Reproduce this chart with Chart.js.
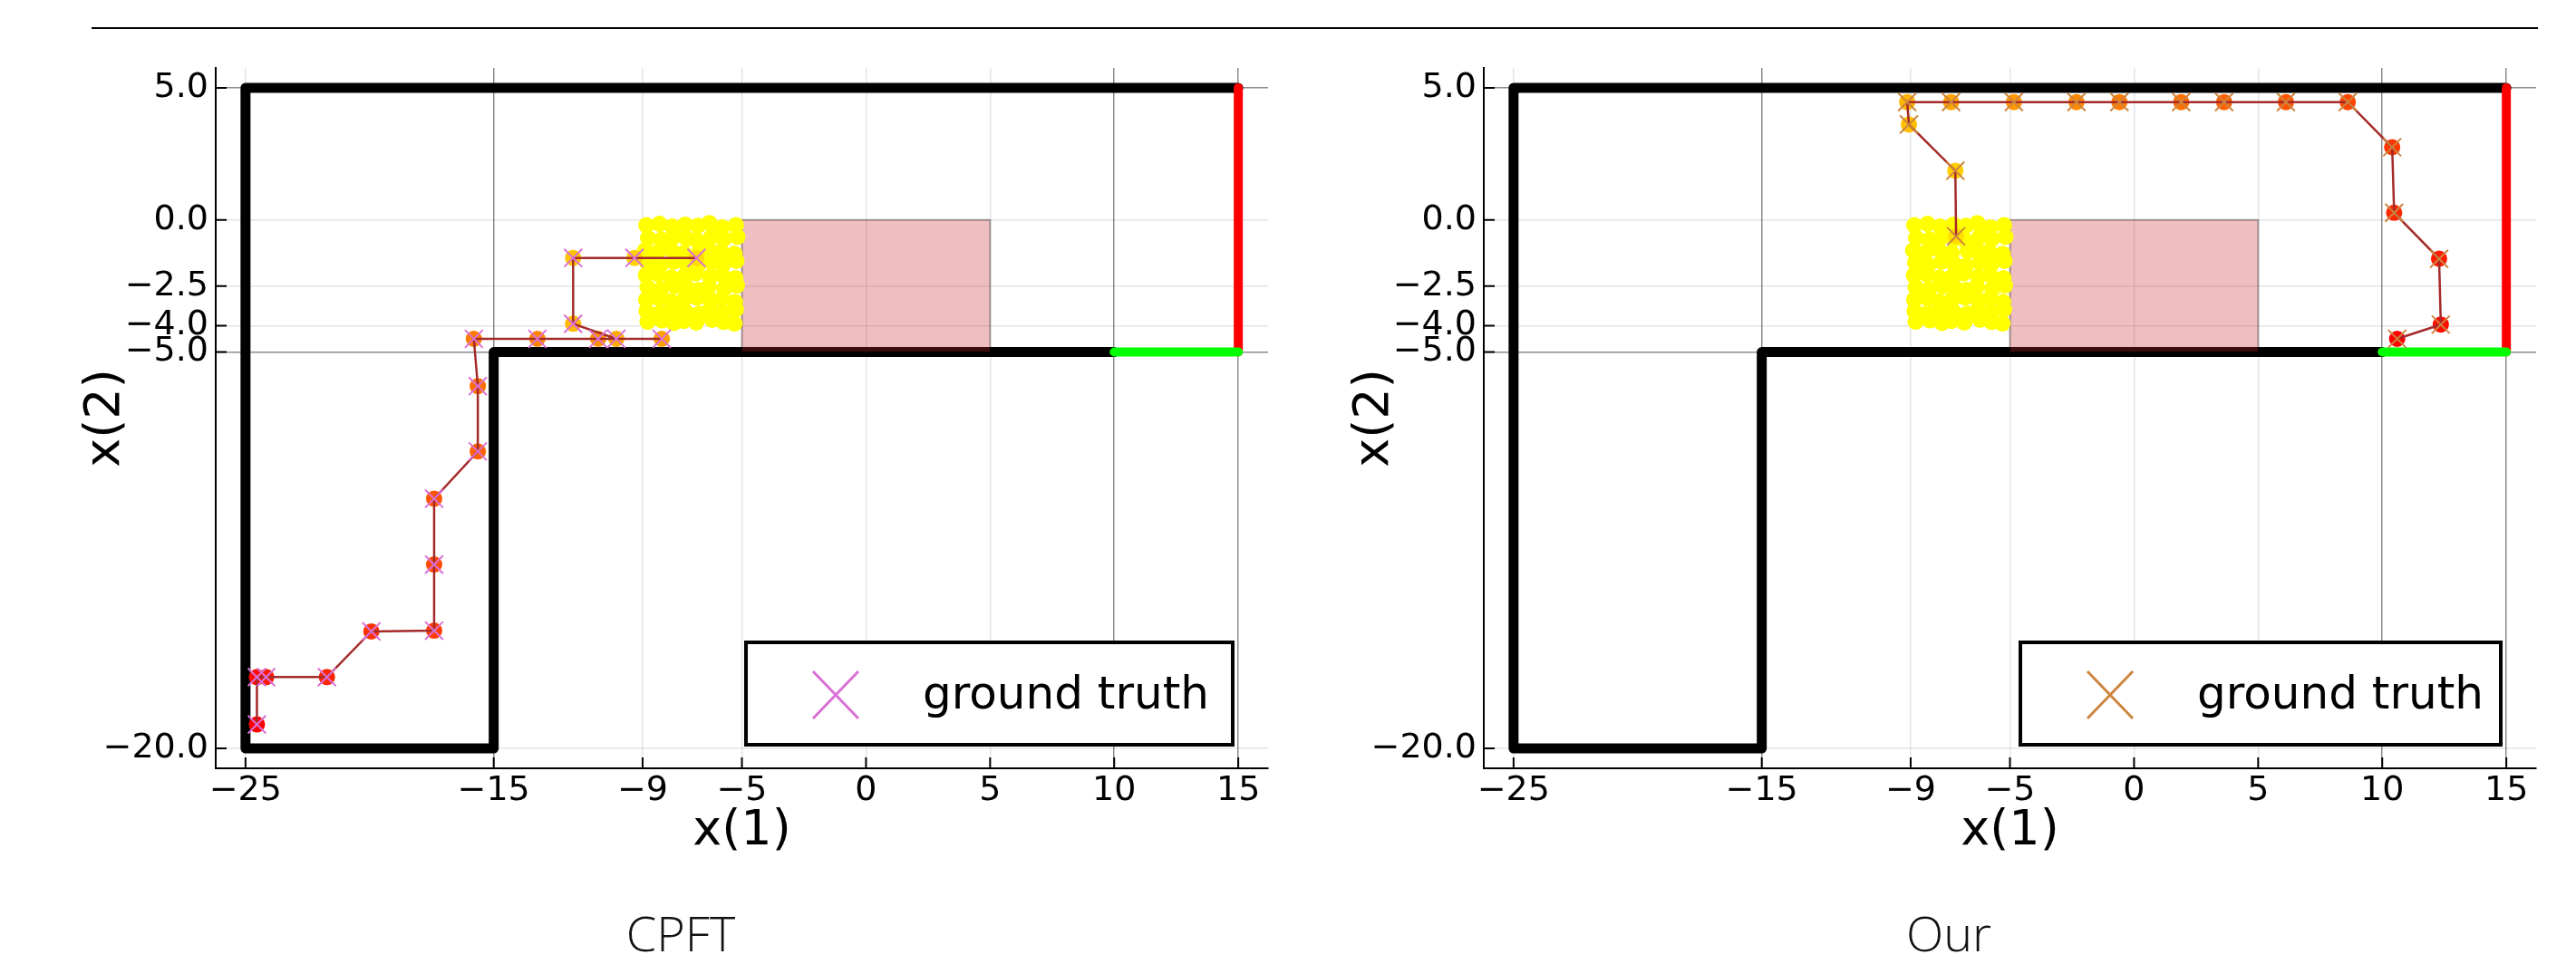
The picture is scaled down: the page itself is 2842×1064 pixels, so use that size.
<!DOCTYPE html>
<html>
<head>
<meta charset="utf-8">
<script src="https://cdn.jsdelivr.net/npm/chart.js@4.4.0/dist/chart.umd.min.js"></script>
<style>
    html, body { margin: 0; padding: 0; background: #fff; }
    body { width: 2842px; height: 1064px; position: relative; overflow: hidden; }
    .rule { position: absolute; left: 101px; top: 30px; width: 2699px; height: 2px; background: #000; }
    canvas { position: absolute; top: 0; }
    #leftChart { left: 0; }
    #rightChart { left: 1400px; }
    .caption {
        position: absolute; top: 998px; transform: translateX(-50%);
        font-family: "Open Sans", "DejaVu Sans", sans-serif; font-weight: 300;
        font-size: 54px; line-height: 62px; color: #111; white-space: nowrap;
    }
</style>
</head>
<body>
<div class="rule"></div>
<canvas id="leftChart" width="1420" height="960"></canvas>
<canvas id="rightChart" width="1442" height="960"></canvas>
<div class="caption" style="left:751px">CPFT</div>
<div class="caption" style="left:2150px">Our</div>

<script>
// Axis ticks
const xTicks = [-25, -15, -9, -5, 0, 5, 10, 15];
const yTicks = [5, 0, -2.5, -4, -5, -20];

// Environment: walls, exit (red), goal (green), obstacle box
const wallX = [15, -25, -25, -15, -15, 10];
const wallY = [5, 5, -20, -20, -5, -5];
const exitX = [15, 15];
const exitY = [-5, 5];
const goalX = [10, 15];
const goalY = [-5, -5];
const obstacleX = [-5, 5, 5, -5, -5];
const obstacleY = [-5, -5, 0, 0, -5];

// Initial state samples (yellow cloud)
const sampleX = [
    -8.85, -8.32, -7.81, -7.28, -6.77, -6.31, -5.79, -5.24,
    -8.78, -8.24, -7.72, -7.22, -6.82, -6.24, -5.72, -5.18,
    -8.90, -8.40, -7.88, -7.35, -6.70, -6.35, -5.85, -5.30,
    -8.82, -8.28, -7.75, -7.25, -6.78, -6.22, -5.75, -5.22,
    -8.87, -8.36, -7.84, -7.30, -6.86, -6.28, -5.80, -5.26,
    -8.80, -8.26, -7.70, -7.20, -6.74, -6.33, -5.70, -5.20,
    -8.86, -8.34, -7.86, -7.32, -6.80, -6.25, -5.82, -5.28,
    -8.84, -8.30, -7.78, -7.26, -6.72, -6.30, -5.76, -5.24,
    -8.80, -8.22, -7.74, -7.34, -6.84, -6.20, -5.74, -5.30
];
const sampleY = [
    -0.20, -0.15, -0.25, -0.18, -0.22, -0.12, -0.28, -0.20,
    -0.68, -0.74, -0.62, -0.70, -0.77, -0.66, -0.72, -0.64,
    -1.15, -1.22, -1.10, -1.25, -1.18, -1.12, -1.20, -1.28,
    -1.62, -1.70, -1.58, -1.66, -1.74, -1.60, -1.68, -1.55,
    -2.10, -2.05, -2.18, -2.12, -2.02, -2.15, -2.08, -2.20,
    -2.55, -2.62, -2.50, -2.58, -2.65, -2.52, -2.60, -2.48,
    -3.02, -2.96, -3.08, -3.00, -2.94, -3.05, -2.98, -3.10,
    -3.45, -3.52, -3.40, -3.48, -3.55, -3.42, -3.50, -3.38,
    -3.85, -3.80, -3.90, -3.82, -3.88, -3.78, -3.86, -3.92
];

// CPFT trajectory
const cpftX = [-6.83, -9.33, -11.8, -11.8, -10.06, -8.23, -10.79, -13.24, -15.8, -15.64, -15.64,
    -17.4, -17.4, -17.4, -19.93, -21.72, -24.17, -24.54, -24.54];
const cpftY = [-1.44, -1.44, -1.44, -3.93, -4.5, -4.5, -4.5, -4.5, -4.5, -6.29, -8.76,
    -10.55, -13.04, -15.54, -15.57, -17.3, -17.3, -17.3, -19.09];

// Our trajectory
const oursX = [-7.17, -7.2, -9.07, -9.14, -7.37, -4.84, -2.32, -0.59, 1.9, 3.63, 6.12, 8.61,
    10.4, 10.48, 12.29, 12.36, 10.6];
const oursY = [-0.62, 1.86, 3.61, 4.46, 4.46, 4.46, 4.46, 4.46, 4.46, 4.46, 4.46, 4.46,
    2.75, 0.27, -1.47, -3.96, -4.5];

const darkGridX = [-15, 10, 15];
const darkGridY = [5, -5];

function zip(xs, ys) {
    return xs.map((x, i) => ({ x: x, y: ys[i] }));
}

function minusSign(text) {
    return text.replace('-', '\u2212');
}

// Inward tick marks and the boxed legend
const frameExtras = {
    id: 'frameExtras',
    afterDraw(chart, args, opts) {
        const ctx = chart.ctx;
        const a = chart.chartArea;
        const xs = chart.scales.x, ys = chart.scales.y;
        ctx.save();
        ctx.strokeStyle = '#000';
        ctx.lineWidth = 2;
        ctx.beginPath();
        xs.ticks.forEach(t => {
            const px = xs.getPixelForValue(t.value);
            ctx.moveTo(px, a.bottom);
            ctx.lineTo(px, a.bottom - 12);
        });
        ys.ticks.forEach(t => {
            const py = ys.getPixelForValue(t.value);
            ctx.moveTo(a.left, py);
            ctx.lineTo(a.left + 12, py);
        });
        ctx.stroke();

        const right = a.right - 39, bottom = a.bottom - 26;
        const left = right - opts.width, top = bottom - 113;
        ctx.fillStyle = '#fff';
        ctx.fillRect(left, top, opts.width, 113);
        ctx.lineWidth = 4;
        ctx.strokeRect(left, top, opts.width, 113);

        const cx = left + 99, cy = top + 58;
        ctx.strokeStyle = opts.color;
        ctx.lineWidth = 3;
        ctx.beginPath();
        ctx.moveTo(cx - 25, cy - 26); ctx.lineTo(cx + 25, cy + 26);
        ctx.moveTo(cx + 25, cy - 26); ctx.lineTo(cx - 25, cy + 26);
        ctx.stroke();

        ctx.fillStyle = '#000';
        ctx.font = '50px "DejaVu Sans"';
        ctx.textBaseline = 'middle';
        ctx.fillText(opts.label, left + 195, cy + 2);
        ctx.restore();
    }
};

function buildDatasets(trajX, trajY, truthColor) {
    const traj = zip(trajX, trajY);
    const colors = traj.map((_, i) => `hsl(${52 - 52 * i / (traj.length - 1)}, 100%, 50%)`);
    return [
        { data: zip(wallX, wallY), showLine: true, borderColor: '#000', borderWidth: 11,
          borderCapStyle: 'round', borderJoinStyle: 'round', pointRadius: 0, order: 10 },
        { data: zip(obstacleX, obstacleY), showLine: true, fill: 'shape',
          backgroundColor: 'rgba(200,40,50,0.3)', borderColor: 'rgba(0,0,0,0.3)', borderWidth: 2,
          pointRadius: 0, order: 9 },
        { data: zip(exitX, exitY), showLine: true, borderColor: '#ff0000', borderWidth: 10,
          borderCapStyle: 'round', pointRadius: 0, order: 8 },
        { data: zip(goalX, goalY), showLine: true, borderColor: '#00ff00', borderWidth: 10,
          borderCapStyle: 'round', pointRadius: 0, order: 7 },
        { data: zip(sampleX, sampleY), pointRadius: 9, pointBackgroundColor: '#ffff00',
          pointBorderWidth: 0, order: 6 },
        { data: traj, pointRadius: 9, pointBackgroundColor: colors, pointBorderWidth: 0, order: 5 },
        { data: traj, showLine: true, borderColor: '#a52a2a', borderWidth: 2.5, pointRadius: 0, order: 4 },
        { label: 'ground truth', data: traj, pointStyle: 'crossRot', pointRadius: 14,
          pointBorderColor: truthColor, pointBorderWidth: 2, order: 3 }
    ];
}

function renderPanel(id, trajX, trajY, truthColor, padRight, axisWidth, legendWidth) {
    const tickFont = { family: 'DejaVu Sans', size: 38, lineHeight: 1 };
    const titleFont = { family: 'DejaVu Sans', size: 54, lineHeight: 1.2 };
    new Chart(document.getElementById(id), {
        type: 'scatter',
        data: { datasets: buildDatasets(trajX, trajY, truthColor) },
        options: {
            responsive: false,
            devicePixelRatio: 1,
            animation: false,
            layout: { padding: { left: 0, top: 75, right: padRight, bottom: 0 } },
            plugins: {
                legend: { display: false },
                tooltip: { enabled: false },
                frameExtras: { width: legendWidth, color: truthColor, label: 'ground truth' }
            },
            scales: {
                x: {
                    type: 'linear', min: -26.2, max: 16.2,
                    afterBuildTicks: s => { s.ticks = xTicks.map(v => ({ value: v })); },
                    afterFit: s => { s.height = 112; },
                    ticks: { autoSkip: false, maxRotation: 0, padding: 6, color: '#000', font: tickFont,
                             callback: v => minusSign(String(v)) },
                    grid: { drawTicks: false, lineWidth: 1.5,
                            color: c => darkGridX.includes(c.tick && c.tick.value) ? 'rgba(0,0,0,0.45)' : 'rgba(0,0,0,0.1)' },
                    border: { color: '#000', width: 2 },
                    title: { display: true, text: 'x(1)', color: '#000', font: titleFont, padding: { top: 0, bottom: 10 } }
                },
                y: {
                    type: 'linear', min: -20.75, max: 5.75,
                    afterBuildTicks: s => { s.ticks = yTicks.map(v => ({ value: v })); },
                    afterFit: s => { s.width = axisWidth; },
                    ticks: { autoSkip: false, padding: 8, color: '#000', font: tickFont,
                             callback: v => minusSign(v.toFixed(1)) },
                    grid: { drawTicks: false, lineWidth: 1.5,
                            color: c => darkGridY.includes(c.tick && c.tick.value) ? 'rgba(0,0,0,0.45)' : 'rgba(0,0,0,0.1)' },
                    border: { color: '#000', width: 2 },
                    title: { display: true, text: 'x(2)', color: '#000', font: titleFont, padding: { top: 85, bottom: 0 } }
                }
            }
        },
        plugins: [frameExtras]
    });
}

document.addEventListener('DOMContentLoaded', function() {
    renderPanel('leftChart', cpftX, cpftY, '#da70d6', 21, 238, 537);
    renderPanel('rightChart', oursX, oursY, '#cd853f', 44, 237, 530);
});
</script>
</body>
</html>
